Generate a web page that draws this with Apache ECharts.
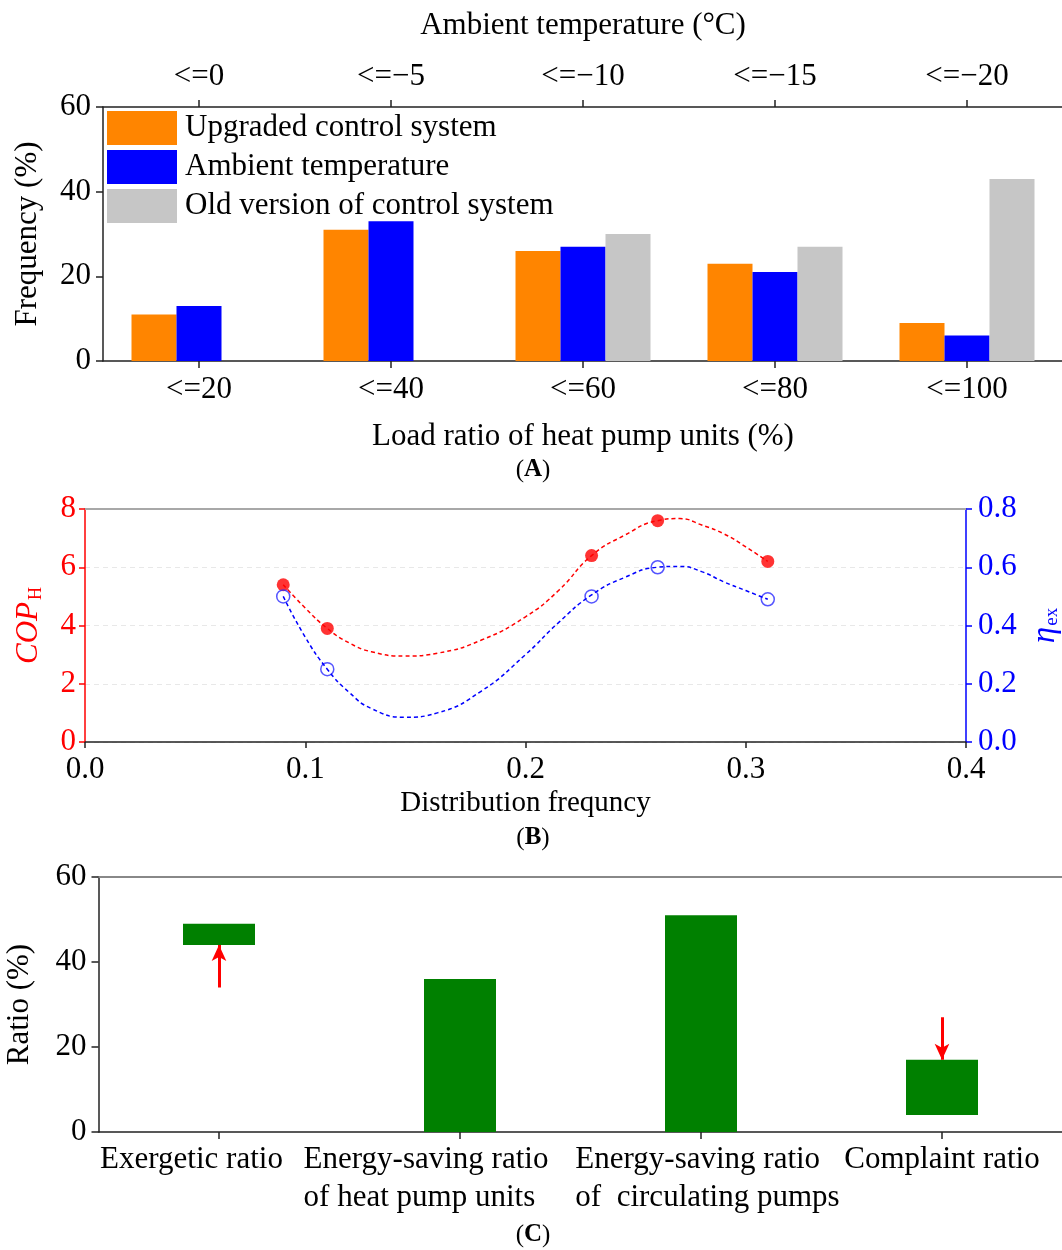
<!DOCTYPE html>
<html>
<head>
<meta charset="utf-8">
<script src="https://cdn.jsdelivr.net/npm/echarts@6/dist/echarts.min.js"></script>
<style>
html,body{margin:0;padding:0;background:#fff;}
#chart{width:1062px;height:1250px;}
</style>
</head>
<body>
<div id="chart"></div>
<script>
// ---------- Panel A data ----------
const loadCats = ['<=20', '<=40', '<=60', '<=80', '<=100'];
const tempCats = ['<=0', '<=\u22125', '<=\u221210', '<=\u221215', '<=\u221220'];
const upgraded = [11, 31, 26, 23, 9];
const ambient = [13, 33, 27, 21, 6];
const oldVersion = [null, null, 30, 27, 43];

// ---------- Panel B data ----------
const distFreq = [0.09, 0.11, 0.23, 0.26, 0.31];
const copH = [5.4, 3.9, 6.4, 7.6, 6.2];
const etaEx = [0.50, 0.25, 0.50, 0.60, 0.49];
// dashed fitted curves
const curveX = [0.09, 0.10, 0.11, 0.12, 0.13, 0.145, 0.16, 0.18, 0.20, 0.215, 0.23, 0.245, 0.26, 0.27, 0.28, 0.29, 0.30, 0.31];
const copCurve = [5.4, 4.6, 3.9, 3.4, 3.1, 2.95, 3.05, 3.5, 4.3, 5.2, 6.4, 7.1, 7.6, 7.67, 7.45, 7.15, 6.7, 6.2];
const etaCurve = [0.50, 0.36, 0.25, 0.17, 0.115, 0.085, 0.10, 0.175, 0.30, 0.41, 0.505, 0.565, 0.60, 0.603, 0.585, 0.55, 0.52, 0.49];

// ---------- Panel C data ----------
const ratioCats = ['Exergetic ratio', 'Energy-saving ratio\nof heat pump units', 'Energy-saving ratio\nof  circulating pumps', 'Complaint ratio'];
const ratioLow = [44, 0, 0, 4];
const ratioHigh = [49, 36, 51, 17];
const arrowFrom = [34, null, null, 27];
const arrowTo = [44, null, null, 17];

const FONT = "'Liberation Serif', 'Times New Roman', serif";
const FS = 31;
const BLACK = '#000';
const RED = '#ff0000';
const BLUE = '#0000ff';

const pairs = (xs, ys) => xs.map((x, i) => [x, ys[i]]);

const arrowData = [];
arrowFrom.forEach((v, i) => {
  if (v != null) arrowData.push([{ coord: [ratioCats[i], v] }, { coord: [ratioCats[i], arrowTo[i]] }]);
});

// horizontal placement of panel C tick labels (padding left/right of each label block)
const cLabelPad = [[0, 55], [0, 68], [13, 0], [0, 0]];
const cRich = {};
cLabelPad.forEach((p, i) => {
  cRich['c' + i] = { fontFamily: FONT, fontSize: FS, color: BLACK, align: 'left', lineHeight: 38, padding: [0, p[1], 0, p[0]] };
});

const axisLineBlack = { show: true, onZero: false, lineStyle: { color: '#222', width: 1.5 } };

const option = {
  animation: false,
  backgroundColor: '#fff',
  textStyle: { fontFamily: FONT, color: BLACK },
  grid: [
    { left: 103, top: 107, width: 960, height: 254, containLabel: false, outerBoundsMode: 'none' },
    { left: 85, top: 509, width: 881, height: 233, containLabel: false, outerBoundsMode: 'none' },
    { left: 98.5, top: 877, width: 964, height: 255, containLabel: false, outerBoundsMode: 'none' }
  ],
  legend: {
    orient: 'vertical',
    left: 107, top: 111, padding: 0,
    itemGap: 5, itemWidth: 70, itemHeight: 34,
    icon: 'rect',
    textStyle: { fontFamily: FONT, fontSize: FS, color: BLACK, padding: [0, 0, 0, 3] },
    data: ['Upgraded control system', 'Ambient temperature', 'Old version of control system']
  },
  xAxis: [
    { // A bottom
      gridIndex: 0, type: 'category', data: loadCats, position: 'bottom',
      axisLine: axisLineBlack,
      axisTick: { show: true, alignWithLabel: true, length: 7, lineStyle: { color: '#222', width: 1.5 } },
      axisLabel: { fontFamily: FONT, fontSize: FS, color: BLACK, margin: 13, interval: 0 },
      name: 'Load ratio of heat pump units (%)', nameLocation: 'middle', nameGap: 60, nameMoveOverlap: false,
      nameTextStyle: { fontFamily: FONT, fontSize: FS, color: BLACK },
      splitLine: { show: false }
    },
    { // A top
      gridIndex: 0, type: 'category', data: tempCats, position: 'top',
      axisLine: axisLineBlack,
      axisTick: { show: true, alignWithLabel: true, length: 7, lineStyle: { color: '#222', width: 1.5 } },
      axisLabel: { fontFamily: FONT, fontSize: FS, color: BLACK, margin: 15, interval: 0 },
      name: 'Ambient temperature (\u00B0C)', nameLocation: 'middle', nameGap: 66, nameMoveOverlap: false,
      nameTextStyle: { fontFamily: FONT, fontSize: FS, color: BLACK },
      splitLine: { show: false }
    },
    { // B bottom
      gridIndex: 1, type: 'value', min: 0, max: 0.4, interval: 0.1, position: 'bottom',
      axisLine: axisLineBlack,
      axisTick: { show: true, length: 6, lineStyle: { color: '#222', width: 1.5 } },
      axisLabel: { fontFamily: FONT, fontSize: FS, color: BLACK, margin: 12, formatter: v => v.toFixed(1) },
      name: 'Distribution frequncy', nameLocation: 'middle', nameGap: 47, nameMoveOverlap: false,
      nameTextStyle: { fontFamily: FONT, fontSize: 29, color: BLACK },
      splitLine: { show: false }
    },
    { // B top border
      gridIndex: 1, type: 'value', min: 0, max: 0.4, interval: 0.1, position: 'top',
      axisLine: { show: true, onZero: false, lineStyle: { color: '#a8a8a8', width: 2 } },
      axisTick: { show: false }, axisLabel: { show: false }, splitLine: { show: false }
    },
    { // C bottom
      gridIndex: 2, type: 'category', data: ratioCats, position: 'bottom',
      axisLine: axisLineBlack,
      axisTick: { show: true, alignWithLabel: true, length: 7, lineStyle: { color: '#222', width: 1.5 } },
      axisLabel: {
        fontFamily: FONT, fontSize: FS, color: BLACK, margin: 9, interval: 0, lineHeight: 38,
        formatter: (v, i) => v.split('\n').map(s => '{c' + i + '|' + s + '}').join('\n'),
        rich: cRich
      },
      splitLine: { show: false }
    },
    { // C top border
      gridIndex: 2, type: 'category', data: ratioCats, position: 'top',
      axisLine: { show: true, onZero: false, lineStyle: { color: '#888', width: 2 } },
      axisTick: { show: false }, axisLabel: { show: false }, splitLine: { show: false }
    }
  ],
  yAxis: [
    { // A left
      gridIndex: 0, type: 'value', min: 0, max: 60, interval: 20,
      axisLine: axisLineBlack,
      axisTick: { show: true, length: 7, lineStyle: { color: '#222', width: 1.5 } },
      axisLabel: { fontFamily: FONT, fontSize: FS, color: BLACK, margin: 12 },
      splitLine: { show: false },
      name: 'Frequency (%)', nameLocation: 'middle', nameGap: 60, nameRotate: 90, nameMoveOverlap: false,
      nameTextStyle: { fontFamily: FONT, fontSize: FS, color: BLACK }
    },
    { // B left (COP)
      gridIndex: 1, type: 'value', min: 0, max: 8, interval: 2, position: 'left',
      axisLine: { show: true, onZero: false, lineStyle: { color: RED, width: 1.5 } },
      axisTick: { show: true, length: 6, lineStyle: { color: RED, width: 1.5 } },
      axisLabel: { fontFamily: FONT, fontSize: FS, color: RED, margin: 9 },
      splitLine: { show: true, lineStyle: { color: '#e8e8e8', type: [5, 4], width: 1 } },
      name: '{i|COP}{s|H}', nameLocation: 'middle', nameGap: 42, nameRotate: 90, nameMoveOverlap: false,
      nameTextStyle: {
        color: RED,
        rich: {
          i: { fontFamily: FONT, fontSize: 31, fontStyle: 'italic', color: RED, verticalAlign: 'top', lineHeight: 30 },
          s: { fontFamily: FONT, fontSize: 18, color: RED, verticalAlign: 'top', lineHeight: 18, padding: [14, 0, 0, 2] }
        }
      }
    },
    { // B right (eta)
      gridIndex: 1, type: 'value', min: 0, max: 0.8, interval: 0.2, position: 'right',
      axisLine: { show: true, onZero: false, lineStyle: { color: BLUE, width: 1.5 } },
      axisTick: { show: true, length: 6, lineStyle: { color: BLUE, width: 1.5 } },
      axisLabel: { fontFamily: FONT, fontSize: FS, color: BLUE, margin: 12, formatter: v => v.toFixed(1) },
      splitLine: { show: false },
      name: '{i|\u03B7}{s|ex}', nameLocation: 'middle', nameGap: 63, nameRotate: 90, nameMoveOverlap: false,
      nameTextStyle: {
        color: BLUE,
        rich: {
          i: { fontFamily: FONT, fontSize: 33, fontStyle: 'italic', color: BLUE, verticalAlign: 'top', lineHeight: 30 },
          s: { fontFamily: FONT, fontSize: 19, color: BLUE, verticalAlign: 'top', lineHeight: 18, padding: [14, 0, 0, 1] }
        }
      }
    },
    { // C left
      gridIndex: 2, type: 'value', min: 0, max: 60, interval: 20,
      axisLine: axisLineBlack,
      axisTick: { show: true, length: 7, lineStyle: { color: '#222', width: 1.5 } },
      axisLabel: { fontFamily: FONT, fontSize: FS, color: BLACK, margin: 12 },
      splitLine: { show: false },
      name: 'Ratio (%)', nameLocation: 'middle', nameGap: 63, nameRotate: 90, nameMoveOverlap: false,
      nameTextStyle: { fontFamily: FONT, fontSize: FS, color: BLACK }
    }
  ],
  series: [
    // ----- Panel A -----
    { name: 'Upgraded control system', type: 'bar', xAxisIndex: 0, yAxisIndex: 0, data: upgraded,
      barWidth: 45, barGap: '0%', itemStyle: { color: '#ff8500' } },
    { name: 'Ambient temperature', type: 'bar', xAxisIndex: 0, yAxisIndex: 0, data: ambient,
      barWidth: 45, barGap: '0%', itemStyle: { color: BLUE } },
    { name: 'Old version of control system', type: 'bar', xAxisIndex: 0, yAxisIndex: 0, data: oldVersion,
      barWidth: 45, barGap: '0%', itemStyle: { color: '#c6c6c6' } },
    // ----- Panel B -----
    { name: 'copCurve', type: 'line', xAxisIndex: 2, yAxisIndex: 1, data: pairs(curveX, copCurve),
      smooth: true, showSymbol: false, silent: true,
      lineStyle: { color: RED, width: 1.5, type: [4, 3] } },
    { name: 'etaCurve', type: 'line', xAxisIndex: 2, yAxisIndex: 2, data: pairs(curveX, etaCurve),
      smooth: true, showSymbol: false, silent: true,
      lineStyle: { color: BLUE, width: 1.5, type: [4, 3] } },
    { name: 'COP', type: 'scatter', xAxisIndex: 2, yAxisIndex: 1, data: pairs(distFreq, copH),
      symbol: 'circle', symbolSize: 13, itemStyle: { color: RED } },
    { name: 'eta', type: 'scatter', xAxisIndex: 2, yAxisIndex: 2, data: pairs(distFreq, etaEx),
      symbol: 'circle', symbolSize: 13, itemStyle: { color: 'rgba(255,255,255,0)', borderColor: '#2a2aff', borderWidth: 1.5 } },
    // ----- Panel C -----
    { name: 'base', type: 'bar', xAxisIndex: 4, yAxisIndex: 3, stack: 'ratio', data: ratioLow,
      barWidth: 72, itemStyle: { color: 'rgba(0,0,0,0)' }, silent: true },
    { name: 'ratio', type: 'bar', xAxisIndex: 4, yAxisIndex: 3, stack: 'ratio',
      data: ratioHigh.map((v, i) => v - ratioLow[i]),
      barWidth: 72, itemStyle: { color: '#008000' } },
    { name: 'arrows', type: 'line', xAxisIndex: 4, yAxisIndex: 3, data: [], silent: true,
      markLine: {
        silent: true, animation: false,
        symbol: ['none', 'arrow'], symbolSize: [11, 16],
        label: { show: false },
        lineStyle: { color: RED, width: 3, type: 'solid' },
        data: arrowData
      } }
  ],
  graphic: [
    { type: 'text', x: 533, y: 470, style: { text: '{n|(}{b|A}{n|)}', align: 'center', verticalAlign: 'middle',
      rich: { n: { fontFamily: FONT, fontSize: 25, fill: BLACK }, b: { fontFamily: FONT, fontSize: 25, fontWeight: 'bold', fill: BLACK } } } },
    { type: 'text', x: 533, y: 838, style: { text: '{n|(}{b|B}{n|)}', align: 'center', verticalAlign: 'middle',
      rich: { n: { fontFamily: FONT, fontSize: 25, fill: BLACK }, b: { fontFamily: FONT, fontSize: 25, fontWeight: 'bold', fill: BLACK } } } },
    { type: 'text', x: 533, y: 1235, style: { text: '{n|(}{b|C}{n|)}', align: 'center', verticalAlign: 'middle',
      rich: { n: { fontFamily: FONT, fontSize: 25, fill: BLACK }, b: { fontFamily: FONT, fontSize: 25, fontWeight: 'bold', fill: BLACK } } } }
  ]
};

const chart = echarts.init(document.getElementById('chart'), null, { renderer: 'canvas' });
chart.setOption(option);
</script>
</body>
</html>
